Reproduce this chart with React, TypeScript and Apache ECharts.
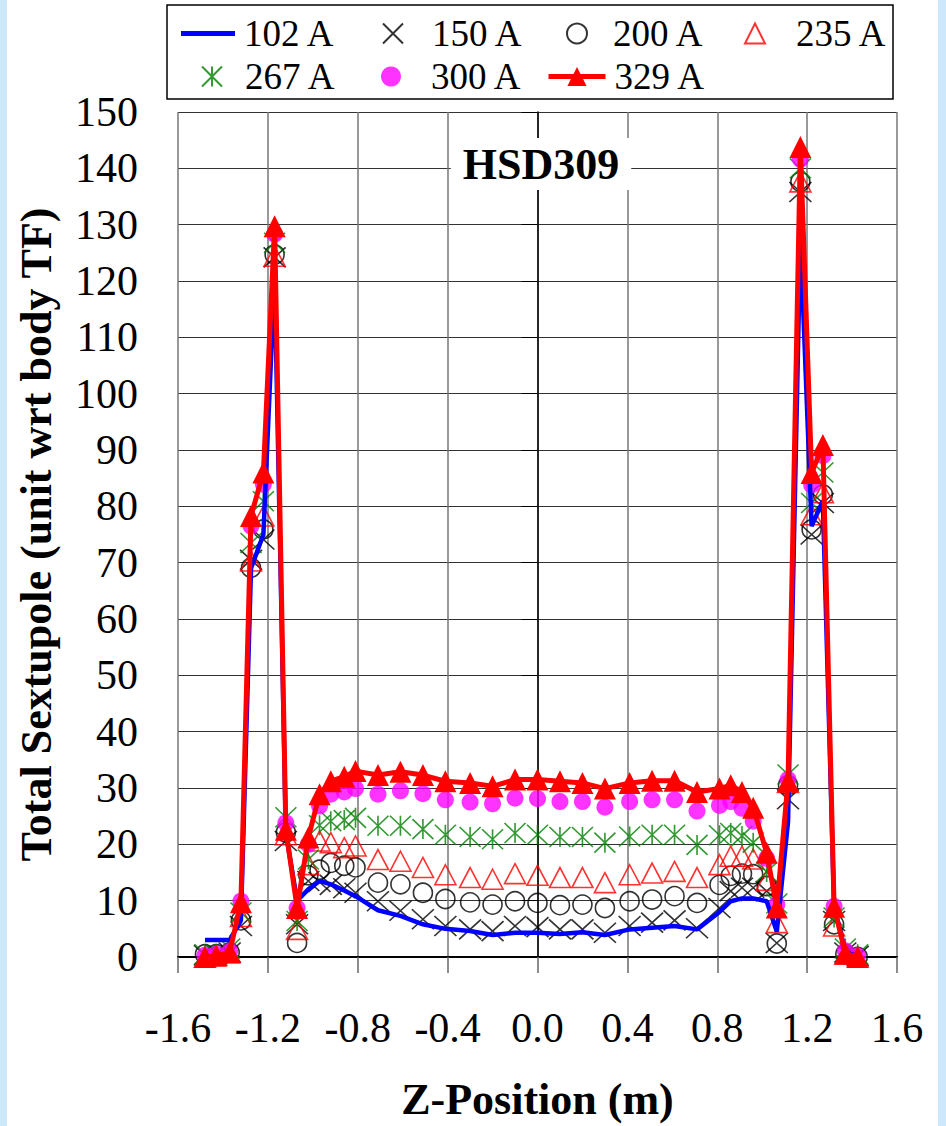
import React, { useEffect, useRef } from 'react';
import * as echarts from 'echarts';

const zPositions = [
  -1.48, -1.43, -1.37, -1.32, -1.275, -1.22, -1.17, -1.12, -1.07, -1.02, -0.97, -0.92, -0.86, -0.81,
  -0.71, -0.61, -0.51, -0.41, -0.30, -0.20, -0.10, 0.00, 0.10, 0.20, 0.30, 0.41, 0.51, 0.61,
  0.71, 0.81, 0.86, 0.91, 0.96, 1.02, 1.065, 1.115, 1.17, 1.22, 1.27, 1.32, 1.37, 1.425,
];

const s102 = [
  3, 3, 3, 6.5, 69, 75, 121, 22, 10, 12.0, 13.5, 12.9, 11.8, 10.8,
  8.3, 7.3, 5.8, 5.0, 4.6, 3.9, 4.3, 4.3, 4.1, 4.4, 3.9, 4.9, 5.2, 5.5,
  4.9, 8.0, 9.9, 10.4, 10.4, 9.9, 4.5, 24, 128, 76.5, 81, 9, 1, 0,
];
const s150 = [
  0.3, 0.5, 0.8, 5.5, 70.5, 74.1, 124.2, 20.6, 5.8, 13.5, 13.3, 12.8, 12.2, 11.4,
  9.9, 8.2, 6.7, 5.5, 4.9, 4.6, 5.5, 5.3, 4.9, 4.9, 4.3, 5.5, 6.1, 6.5,
  5.1, 8.7, 11.7, 12.3, 12.3, 11.7, 2.5, 28.0, 135.8, 75.0, 80.6, 6.4, 0.8, 0.2,
];
const s200 = [
  0.5, 0.5, 0.8, 6.5, 69.1, 75.9, 124.7, 22.1, 2.5, 14.5, 15.5, 16.7, 16.2, 15.9,
  13.2, 12.9, 11.4, 10.3, 9.7, 9.3, 9.9, 9.6, 9.2, 9.3, 8.7, 9.9, 10.2, 10.8,
  9.6, 12.8, 14.4, 14.8, 14.7, 12.6, 2.4, 30.5, 137.6, 75.9, 82.1, 5.8, 0.5, 0,
];
const s235 = [
  0, 0.3, 0.8, 7.2, 70.3, 78.3, 124.4, 21.7, 4.9, 16.4, 20.6, 20.3, 19.4, 19.7,
  17.3, 17.0, 15.9, 14.6, 14.1, 13.8, 14.8, 14.5, 14.1, 14.1, 13.2, 14.6, 14.9, 15.2,
  14.1, 16.4, 17.9, 17.9, 17.4, 13.6, 6.1, 31.0, 137.6, 78.5, 82.4, 5.5, 0.5, 0,
];
const s267 = [
  0.5, 0.5, 1.5, 7.9, 73.5, 80.9, 126.8, 24.8, 6.4, 17.3, 23.4, 24.1, 24.3, 24.7,
  23.3, 23.3, 22.7, 21.7, 21.3, 20.9, 22.0, 21.7, 21.3, 21.3, 20.3, 21.4, 21.7, 21.7,
  19.9, 21.6, 22.0, 21.5, 20.3, 15.1, 9.5, 32.4, 140.0, 80.6, 86.0, 7.0, 1.5, 0.5,
];
const s300 = [
  0.3, 0.5, 1.0, 9.9, 76.5, 83.9, 128.3, 23.8, 8.7, 20.0, 26.8, 28.9, 29.3, 29.9,
  28.9, 29.5, 29.0, 27.9, 27.5, 27.2, 28.2, 28.1, 27.6, 27.6, 26.6, 27.6, 27.9, 27.9,
  25.9, 26.9, 27.6, 26.4, 24.1, 17.5, 9.3, 31.5, 141.6, 83.8, 89.0, 9.0, 1.1, 0.2,
];
const s329 = [
  0, 0.2, 0.8, 9.7, 78.3, 86.0, 129.7, 22.6, 8.7, 21.2, 28.9, 31.2, 32.0, 33.0,
  32.3, 32.9, 32.3, 31.2, 30.9, 30.3, 31.5, 31.5, 31.2, 30.9, 29.9, 30.9, 31.3, 31.3,
  29.3, 29.9, 30.5, 29.3, 26.5, 18.5, 8.8, 31.2, 143.8, 85.9, 90.9, 8.9, 0.6, 0,
];

const seriesNames = ['102 A', '150 A', '200 A', '235 A', '267 A', '300 A', '329 A'];
const xTitle = 'Z-Position (m)';
const yTitle = 'Total Sextupole (unit wrt body TF)';
const chartTitle = 'HSD309';

const X_PATH = 'path://M0 0L10 10M10 0L0 10';
const STAR_PATH = 'path://M0 0L10 10M10 0L0 10M5 0L5 10';
const FONT = 'Liberation Serif';

const pairs = (vals: number[]) => zPositions.map((z, i) => [z, vals[i]]);

export default function App() {
  const ref = useRef<HTMLDivElement>(null);
  useEffect(() => {
    if (!ref.current) return;
    const chart = echarts.init(ref.current, null, { renderer: 'svg' });
    const legendText = { fontFamily: FONT, fontSize: 37, color: '#000' };
    const mk = (name: string, left: number, top: number, w: number, h: number, pad: number, extra: any = {}) => ({
      data: [extra.icon ? { name, icon: extra.icon } : { name }],
      left, top, itemWidth: w, itemHeight: h, padding: 0,
      selectedMode: false,
      ...(extra.lineWidth ? { lineStyle: { width: extra.lineWidth } } : {}),
      textStyle: { ...legendText, padding: [0, 0, 0, pad] },
    });
    const option: any = {
      animation: false,
      backgroundColor: '#fff',
      graphic: [
        { type: 'rect', shape: { x: 0, y: 0, width: 7, height: 1126 }, style: { fill: '#CCE8FA' }, z: 0 },
        { type: 'rect', shape: { x: 938, y: 0, width: 8, height: 1126 }, style: { fill: '#CCE8FA' }, z: 0 },
        { type: 'rect', shape: { x: 167, y: 5, width: 726, height: 94 }, style: { fill: '#fff', stroke: '#000', lineWidth: 1.5 }, z: 1 },
        {
          type: 'text', x: 541, y: 164, z: 10,
          style: {
            text: chartTitle, align: 'center', verticalAlign: 'middle',
            font: `bold 44px "${FONT}"`, fill: '#000', backgroundColor: '#fff', padding: [4, 12],
          },
        },
      ],
      legend: [
        mk(seriesNames[0], 181, 15, 54, 5, 4, { icon: 'path://M0 0H54V5H0Z' }),
        mk(seriesNames[1], 382, 15, 20, 20, 24),
        mk(seriesNames[2], 566, 15, 20, 20, 21),
        mk(seriesNames[3], 744, 15, 20, 20, 26),
        mk(seriesNames[4], 201, 58, 20, 20, 18),
        mk(seriesNames[5], 381, 58, 20, 20, 25),
        mk(seriesNames[6], 546, 58, 57, 24, 4, { lineWidth: 5 }),
      ],
      grid: { left: 178, right: 49, top: 112, bottom: 168, containLabel: false },
      xAxis: {
        type: 'value', min: -1.6, max: 1.6, interval: 0.4,
        axisLine: { show: true, onZero: false, lineStyle: { color: '#000', width: 2 } },
        axisTick: { show: true, length: 16, lineStyle: { color: '#666', width: 1.5 } },
        axisLabel: { margin: 50, fontFamily: FONT, fontSize: 42, color: '#000', formatter: (v: number) => v.toFixed(1) },
        splitLine: { show: true, lineStyle: { color: '#777', width: 1.5 } },
        name: xTitle, nameLocation: 'middle', nameGap: 120,
        nameTextStyle: { fontFamily: FONT, fontWeight: 'bold', fontSize: 44, color: '#000' },
      },
      yAxis: {
        type: 'value', min: 0, max: 150, interval: 10,
        axisLine: { show: true, lineStyle: { color: '#000', width: 1.5 } },
        axisTick: { show: true, length: 16, lineStyle: { color: '#000', width: 1 } },
        axisLabel: { margin: 40, fontFamily: FONT, fontSize: 42, color: '#000' },
        splitLine: { show: true, lineStyle: { color: '#333', width: 1 } },
        name: yTitle, nameLocation: 'middle', nameGap: 120, nameRotate: 90,
        nameTextStyle: { fontFamily: FONT, fontWeight: 'bold', fontSize: 44, color: '#000' },
      },
      series: [
        {
          name: seriesNames[0], type: 'line', data: pairs(s102), symbol: 'none', color: '#0000FF',
          lineStyle: { width: 4.5, color: '#0000FF' }, silent: true,
        },
        {
          name: seriesNames[1], type: 'scatter', data: pairs(s150), symbol: X_PATH, symbolSize: [22, 20],
          itemStyle: { color: 'rgba(0,0,0,0)', borderColor: '#000', borderWidth: 1.6 }, silent: true,
        },
        {
          name: seriesNames[2], type: 'scatter', data: pairs(s200), symbol: 'circle', symbolSize: 19,
          itemStyle: { color: 'rgba(0,0,0,0)', borderColor: '#000', borderWidth: 1.6 }, silent: true,
        },
        {
          name: seriesNames[3], type: 'scatter', data: pairs(s235), symbol: 'triangle', symbolSize: [21, 20],
          itemStyle: { color: 'rgba(0,0,0,0)', borderColor: '#FF0000', borderWidth: 1.6 }, silent: true,
        },
        {
          name: seriesNames[4], type: 'scatter', data: pairs(s267), symbol: STAR_PATH, symbolSize: [21, 20],
          itemStyle: { color: 'rgba(0,0,0,0)', borderColor: '#008000', borderWidth: 1.6 }, silent: true,
        },
        {
          name: seriesNames[5], type: 'scatter', data: pairs(s300), symbol: 'circle', symbolSize: 17,
          itemStyle: { color: '#FF00FF' }, silent: true,
        },
        {
          name: seriesNames[6], type: 'line', data: pairs(s329), symbol: 'triangle', symbolSize: 22,
          showAllSymbol: true, color: '#FF0000',
          itemStyle: { color: '#FF0000' }, lineStyle: { width: 5, color: '#FF0000' }, silent: true,
        },
      ],
    };
    chart.setOption(option);
    return () => chart.dispose();
  }, []);
  return <div ref={ref} style={{ position: 'fixed', left: 0, top: 0, width: 946, height: 1126 }} />;
}
